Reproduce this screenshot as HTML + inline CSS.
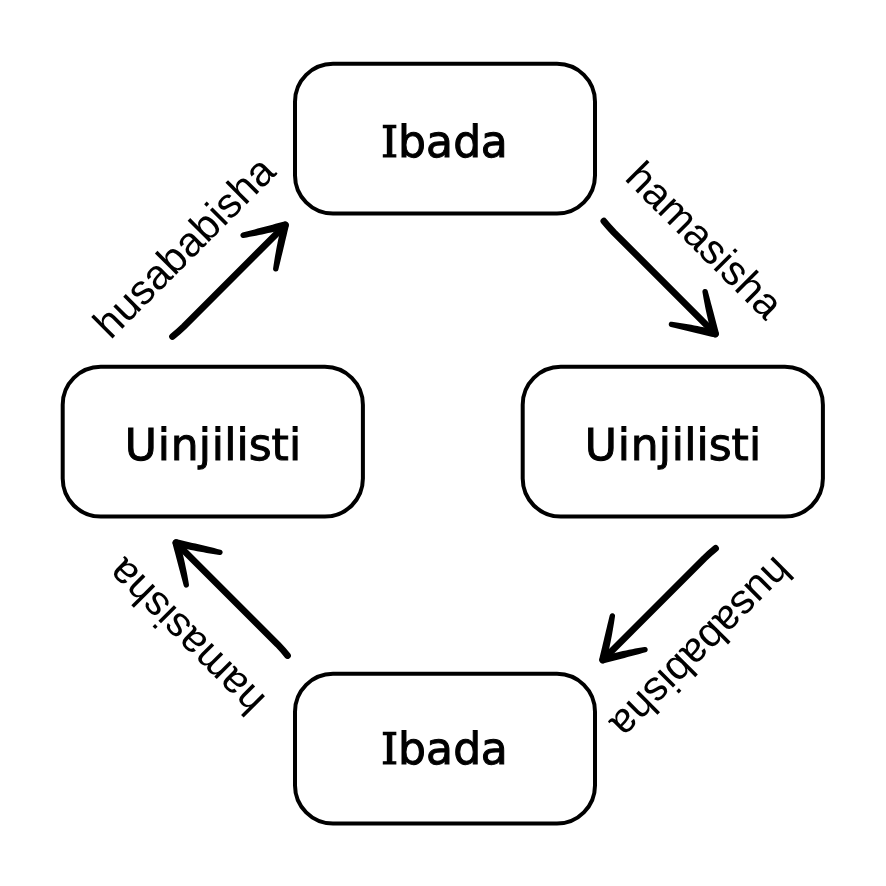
<!DOCTYPE html>
<html lang="sw">
<head>
<meta charset="utf-8">
<title>Ibada na Uinjilisti</title>
<style>
html,body{margin:0;padding:0;background:#fff;}
body{width:886px;height:886px;overflow:hidden;}
svg{display:block;will-change:transform;filter:grayscale(1);}
.box{fill:#fff;stroke:#000;stroke-width:4;}
.bt,.lb{text-rendering:geometricPrecision;}
.bt{font-family:"DejaVu Sans", "Liberation Sans", sans-serif;font-size:44px;fill:#000;stroke:#000;stroke-width:1;stroke-linejoin:miter;}
.ci{font-family:"DejaVu Serif", "Liberation Serif", serif;font-size:43.4px;stroke-width:1.2;}
.lb{font-family:"Liberation Sans", sans-serif;fill:#000;text-anchor:middle;}
.ar{fill:none;stroke:#000;stroke-width:6.7;stroke-linecap:round;stroke-linejoin:round;}
.aw{fill:#000;stroke:none;}
</style>
</head>
<body>
<svg width="886" height="886" viewBox="0 0 886 886">
<rect x="0" y="0" width="886" height="886" fill="#fff"/>
<rect class="box" x="295" y="63.7" width="300" height="149.8" rx="38" ry="38"/>
<rect class="box" x="62.7" y="366.8" width="300.2" height="149.8" rx="38" ry="38"/>
<rect class="box" x="522.7" y="366.8" width="300.2" height="149.8" rx="38" ry="38"/>
<rect class="box" x="295" y="673.7" width="300" height="149.8" rx="38" ry="38"/>
<text class="bt" x="381.06 397.94 426.11 453.19 480.87" y="157"><tspan class="ci">I</tspan>bada</text>
<text class="bt" x="124.65 157.86 170.69 198.84 211.86 224.35 236.61 248.77 271.46 289.11" y="460">Uinjilisti</text>
<text class="bt" x="584.65 617.86 630.69 658.84 671.86 684.35 696.61 708.77 731.46 749.11" y="460">Uinjilisti</text>
<text class="bt" x="381.06 397.94 426.11 453.19 480.87" y="764"><tspan class="ci">I</tspan>bada</text>
<text class="lb" font-size="41.65" transform="translate(185.2 248.2) rotate(-45)" x="0" y="12.45">husababisha</text>
<text class="lb" font-size="41.65" transform="translate(703.4 241.5) rotate(45)" x="0" y="12.45">hamasisha</text>
<text class="lb" font-size="41.65" transform="translate(186.9 635.8) rotate(-135)" x="0" y="12.45">hamasisha</text>
<text class="lb" font-size="41.65" transform="translate(700.3 646.9) rotate(135)" x="0" y="12.45">husababisha</text>
<g transform="translate(288.05 222.25) rotate(-45)"><path class="ar" d="M-162.5 -0.9Q-155.5 -0.18 -147.5 0L-4 0"/><path class="aw" d="M-5.93 -3.15L-8.63 -1.49L-11.33 0.19L-14.02 1.9L-16.71 3.62L-19.39 5.37L-22.07 7.13L-24.74 8.92L-27.4 10.73L-30.05 12.57L-32.7 14.42L-35.34 16.3L-37.97 18.2L-40.6 20.12L-43.21 22.06L-43.83 22.64L-44.24 23.38L-44.4 24.21L-44.29 25.05L-43.94 25.81L-43.36 26.43L-42.62 26.84L-41.79 27L-40.95 26.89L-40.19 26.54L-37.42 24.85L-34.66 23.17L-31.9 21.48L-29.16 19.8L-26.42 18.13L-23.69 16.45L-20.96 14.78L-18.25 13.11L-15.54 11.44L-12.83 9.77L-10.13 8.11L-7.44 6.45L-4.75 4.8L-2.07 3.15L-1.19 2.4L-0.58 1.42L-0.31 0.29L-0.4 -0.86L-0.85 -1.93L-1.6 -2.81L-2.58 -3.42L-3.71 -3.69L-4.86 -3.6L-5.93 -3.15Z M-2.15 -3.2L-4.78 -4.73L-7.42 -6.26L-10.06 -7.8L-12.71 -9.33L-15.36 -10.88L-18.02 -12.42L-20.68 -13.97L-23.36 -15.52L-26.04 -17.08L-28.72 -18.63L-31.41 -20.19L-34.11 -21.75L-36.82 -23.31L-39.54 -24.87L-40.31 -25.21L-41.15 -25.3L-41.98 -25.12L-42.71 -24.69L-43.27 -24.06L-43.61 -23.29L-43.7 -22.45L-43.52 -21.62L-43.09 -20.89L-42.46 -20.33L-39.89 -18.5L-37.31 -16.7L-34.73 -14.92L-32.14 -13.16L-29.54 -11.43L-26.93 -9.72L-24.32 -8.03L-21.69 -6.36L-19.07 -4.71L-16.44 -3.09L-13.8 -1.49L-11.15 0.1L-8.5 1.66L-5.85 3.2L-4.77 3.62L-3.62 3.68L-2.5 3.38L-1.53 2.75L-0.8 1.85L-0.38 0.77L-0.32 -0.38L-0.62 -1.5L-1.25 -2.47L-2.15 -3.2Z"/></g>
<g transform="translate(718.11 336.61) rotate(45)"><path class="ar" d="M-162.5 -0.9Q-155.5 -0.18 -147.5 0L-4 0"/><path class="aw" d="M-5.93 -3.15L-8.63 -1.49L-11.33 0.19L-14.02 1.9L-16.71 3.62L-19.39 5.37L-22.07 7.13L-24.74 8.92L-27.4 10.73L-30.05 12.57L-32.7 14.42L-35.34 16.3L-37.97 18.2L-40.6 20.12L-43.21 22.06L-43.83 22.64L-44.24 23.38L-44.4 24.21L-44.29 25.05L-43.94 25.81L-43.36 26.43L-42.62 26.84L-41.79 27L-40.95 26.89L-40.19 26.54L-37.42 24.85L-34.66 23.17L-31.9 21.48L-29.16 19.8L-26.42 18.13L-23.69 16.45L-20.96 14.78L-18.25 13.11L-15.54 11.44L-12.83 9.77L-10.13 8.11L-7.44 6.45L-4.75 4.8L-2.07 3.15L-1.19 2.4L-0.58 1.42L-0.31 0.29L-0.4 -0.86L-0.85 -1.93L-1.6 -2.81L-2.58 -3.42L-3.71 -3.69L-4.86 -3.6L-5.93 -3.15Z M-2.15 -3.2L-4.78 -4.73L-7.42 -6.26L-10.06 -7.8L-12.71 -9.33L-15.36 -10.88L-18.02 -12.42L-20.68 -13.97L-23.36 -15.52L-26.04 -17.08L-28.72 -18.63L-31.41 -20.19L-34.11 -21.75L-36.82 -23.31L-39.54 -24.87L-40.31 -25.21L-41.15 -25.3L-41.98 -25.12L-42.71 -24.69L-43.27 -24.06L-43.61 -23.29L-43.7 -22.45L-43.52 -21.62L-43.09 -20.89L-42.46 -20.33L-39.89 -18.5L-37.31 -16.7L-34.73 -14.92L-32.14 -13.16L-29.54 -11.43L-26.93 -9.72L-24.32 -8.03L-21.69 -6.36L-19.07 -4.71L-16.44 -3.09L-13.8 -1.49L-11.15 0.1L-8.5 1.66L-5.85 3.2L-4.77 3.62L-3.62 3.68L-2.5 3.38L-1.53 2.75L-0.8 1.85L-0.38 0.77L-0.32 -0.38L-0.62 -1.5L-1.25 -2.47L-2.15 -3.2Z"/></g>
<g transform="translate(173.29 539.99) rotate(-135)"><path class="ar" d="M-162.5 -0.9Q-155.5 -0.18 -147.5 0L-4 0"/><path class="aw" d="M-5.93 -3.15L-8.63 -1.49L-11.33 0.19L-14.02 1.9L-16.71 3.62L-19.39 5.37L-22.07 7.13L-24.74 8.92L-27.4 10.73L-30.05 12.57L-32.7 14.42L-35.34 16.3L-37.97 18.2L-40.6 20.12L-43.21 22.06L-43.83 22.64L-44.24 23.38L-44.4 24.21L-44.29 25.05L-43.94 25.81L-43.36 26.43L-42.62 26.84L-41.79 27L-40.95 26.89L-40.19 26.54L-37.42 24.85L-34.66 23.17L-31.9 21.48L-29.16 19.8L-26.42 18.13L-23.69 16.45L-20.96 14.78L-18.25 13.11L-15.54 11.44L-12.83 9.77L-10.13 8.11L-7.44 6.45L-4.75 4.8L-2.07 3.15L-1.19 2.4L-0.58 1.42L-0.31 0.29L-0.4 -0.86L-0.85 -1.93L-1.6 -2.81L-2.58 -3.42L-3.71 -3.69L-4.86 -3.6L-5.93 -3.15Z M-2.15 -3.2L-4.78 -4.73L-7.42 -6.26L-10.06 -7.8L-12.71 -9.33L-15.36 -10.88L-18.02 -12.42L-20.68 -13.97L-23.36 -15.52L-26.04 -17.08L-28.72 -18.63L-31.41 -20.19L-34.11 -21.75L-36.82 -23.31L-39.54 -24.87L-40.31 -25.21L-41.15 -25.3L-41.98 -25.12L-42.71 -24.69L-43.27 -24.06L-43.61 -23.29L-43.7 -22.45L-43.52 -21.62L-43.09 -20.89L-42.46 -20.33L-39.89 -18.5L-37.31 -16.7L-34.73 -14.92L-32.14 -13.16L-29.54 -11.43L-26.93 -9.72L-24.32 -8.03L-21.69 -6.36L-19.07 -4.71L-16.44 -3.09L-13.8 -1.49L-11.15 0.1L-8.5 1.66L-5.85 3.2L-4.77 3.62L-3.62 3.68L-2.5 3.38L-1.53 2.75L-0.8 1.85L-0.38 0.77L-0.32 -0.38L-0.62 -1.5L-1.25 -2.47L-2.15 -3.2Z"/></g>
<g transform="translate(600.03 662.62) rotate(135)"><path class="ar" d="M-162.5 -0.9Q-155.5 -0.18 -147.5 0L-4 0"/><path class="aw" d="M-5.93 -3.15L-8.63 -1.49L-11.33 0.19L-14.02 1.9L-16.71 3.62L-19.39 5.37L-22.07 7.13L-24.74 8.92L-27.4 10.73L-30.05 12.57L-32.7 14.42L-35.34 16.3L-37.97 18.2L-40.6 20.12L-43.21 22.06L-43.83 22.64L-44.24 23.38L-44.4 24.21L-44.29 25.05L-43.94 25.81L-43.36 26.43L-42.62 26.84L-41.79 27L-40.95 26.89L-40.19 26.54L-37.42 24.85L-34.66 23.17L-31.9 21.48L-29.16 19.8L-26.42 18.13L-23.69 16.45L-20.96 14.78L-18.25 13.11L-15.54 11.44L-12.83 9.77L-10.13 8.11L-7.44 6.45L-4.75 4.8L-2.07 3.15L-1.19 2.4L-0.58 1.42L-0.31 0.29L-0.4 -0.86L-0.85 -1.93L-1.6 -2.81L-2.58 -3.42L-3.71 -3.69L-4.86 -3.6L-5.93 -3.15Z M-2.15 -3.2L-4.78 -4.73L-7.42 -6.26L-10.06 -7.8L-12.71 -9.33L-15.36 -10.88L-18.02 -12.42L-20.68 -13.97L-23.36 -15.52L-26.04 -17.08L-28.72 -18.63L-31.41 -20.19L-34.11 -21.75L-36.82 -23.31L-39.54 -24.87L-40.31 -25.21L-41.15 -25.3L-41.98 -25.12L-42.71 -24.69L-43.27 -24.06L-43.61 -23.29L-43.7 -22.45L-43.52 -21.62L-43.09 -20.89L-42.46 -20.33L-39.89 -18.5L-37.31 -16.7L-34.73 -14.92L-32.14 -13.16L-29.54 -11.43L-26.93 -9.72L-24.32 -8.03L-21.69 -6.36L-19.07 -4.71L-16.44 -3.09L-13.8 -1.49L-11.15 0.1L-8.5 1.66L-5.85 3.2L-4.77 3.62L-3.62 3.68L-2.5 3.38L-1.53 2.75L-0.8 1.85L-0.38 0.77L-0.32 -0.38L-0.62 -1.5L-1.25 -2.47L-2.15 -3.2Z"/></g>
</svg>
</body>
</html>
